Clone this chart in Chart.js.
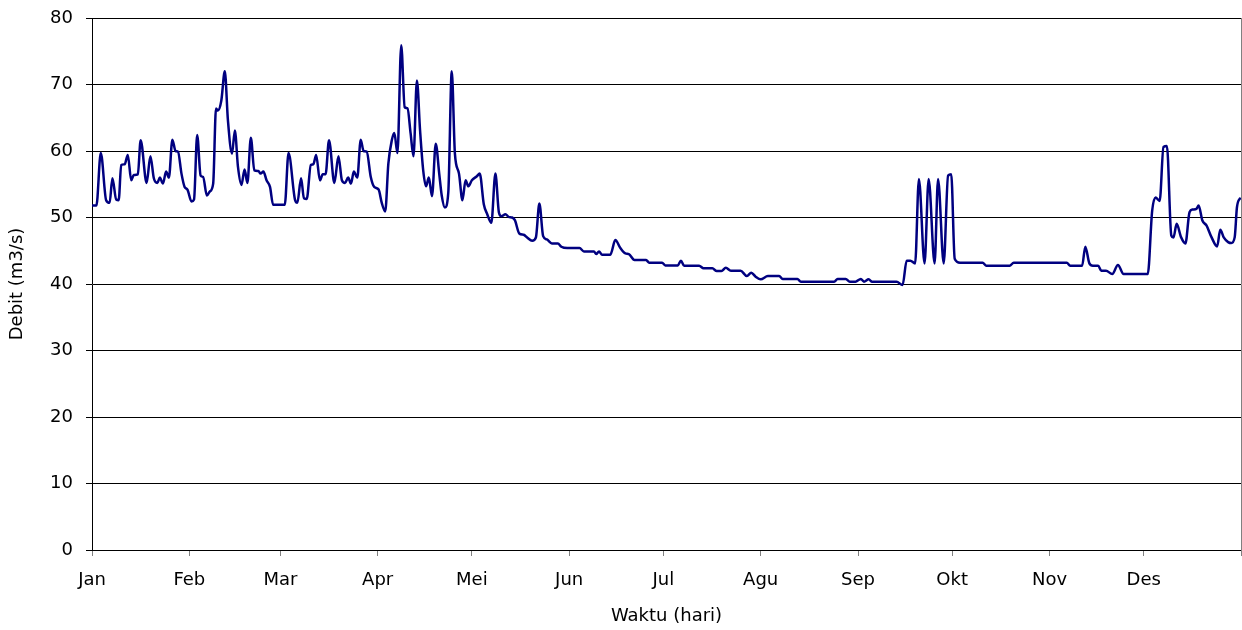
<!DOCTYPE html>
<html>
<head>
<meta charset="utf-8">
<script src="https://cdn.jsdelivr.net/npm/chart.js@4/dist/chart.umd.min.js"></script>
<style>
  html, body { margin: 0; padding: 0; background: #fff; }
  #wrap { width: 1242px; height: 630px; }
</style>
</head>
<body>
<div id="wrap"><canvas id="chartDebit"></canvas></div>
<script>
// Label bulan dan hari awal tiap bulan (tahun kabisat)
const bulan = ['Jan', 'Feb', 'Mar', 'Apr', 'Mei', 'Jun', 'Jul', 'Agu', 'Sep', 'Okt', 'Nov', 'Des'];
const awalBulan = [0, 31, 60, 91, 121, 152, 182, 213, 244, 274, 305, 335, 366];
const yMin = 0, yMax = 80, yStep = 10;

// Debit harian: hari ke- dan nilai m3/s
const hari = [
  0, 1.4, 2.8, 4.5, 5.6, 6.5, 7.7, 8.5, 9.3, 10.4, 11.4, 12.5, 13.3, 14.6, 15.5, 17.4, 18.6, 19.7, 20.8, 21.6,
  22.6, 23.6, 24.5, 25.6, 26.6, 27.4, 28.5, 29.5, 30.4, 31.7, 32.5, 33.5, 34.6, 35.4, 36.6, 37.5, 38.6, 39.5, 40.1, 41.2,
  42.3, 43.3, 44.6, 45.5, 46.5, 47.6, 48.6, 49.5, 50.6, 51.7, 53, 53.7, 54.6, 55.6, 56.7, 57.7, 61.4, 62.6, 64.7, 65.4,
  66.6, 67.5, 68.4, 69.7, 70.5, 71.4, 72.6, 73.5, 74.4, 75.5, 77.2, 78.5, 79.6, 80.6, 81.6, 82.5, 83.4, 84.5, 85.6, 86.5,
  87.5, 88.8, 89.9, 91.3, 92.3, 93.4, 94.4, 95.5, 96.3, 97.3, 98.5, 99.6, 100.5, 101.5, 102.4, 103.5, 104.5, 105.5, 106.4, 107.3,
  108.3, 109.5, 110.6, 111.4, 112.4, 113.5, 114.6, 115.6, 116.9, 118, 119, 119.9, 121, 122.6, 123.5, 124.8, 125.9, 127.2, 128.5, 129.6,
  130.4, 131.7, 132.7, 133.8, 134.7, 136.1, 137.5, 138.6, 140.2, 141.4, 142.5, 143.7, 144.9, 146.5, 148.4, 149.5, 151.4, 155.3, 156.7, 159.9,
  160.6, 161.5, 162.5, 165.1, 166.7, 168.3, 169.9, 171, 172.8, 176.5, 177.5, 181.6, 182.6, 186.6, 187.6, 188.6, 193.4, 194.8, 197.6, 199,
  200.5, 201.9, 203.5, 206.6, 208.6, 210, 211.4, 213, 215.3, 218.9, 220, 224.7, 225.8, 236.4, 237.5, 240.1, 241.4, 243.2, 244.9, 245.9,
  247.4, 248.5, 256.3, 258.2, 259.5, 260.7, 262.2, 263.4, 265.2, 266.5, 268.4, 269.5, 271.3, 272.7, 273.7, 274.8, 276.5, 283.7, 284.9, 292.3,
  293.6, 310.5, 311.6, 315.4, 316.4, 317.7, 318.8, 320.5, 321.5, 323, 325, 326.8, 328.6, 336.3, 337.7, 338.8, 340.1, 341.3, 342.4, 343.8,
  344.5, 345.5, 346.9, 348.3, 349.6, 350.6, 351.8, 352.5, 353.7, 355, 356.6, 358.4, 359.4, 360.5, 361.9, 362.9, 364, 364.7, 365.8
];
const debit = [
  51.8, 51.8, 59.7, 52.6, 52.2, 55.9, 52.7, 52.6, 57.9, 58, 59.4, 55.6, 56.4, 56.5, 61.6, 55.2, 59.2, 55.9, 55.2, 56,
  55.1, 56.9, 56, 61.7, 60, 59.9, 56.6, 54.6, 54.2, 52.4, 52.7, 62.4, 56.3, 56.1, 53.3, 53.9, 55.1, 66.4, 66.1, 67.6,
  72, 64.6, 59.6, 63.1, 57.6, 54.9, 57.2, 55.2, 62, 57.1, 57, 56.6, 56.9, 55.6, 54.6, 51.9, 51.9, 59.7, 52.6, 52.2,
  55.9, 52.9, 52.8, 57.9, 58, 59.4, 55.6, 56.5, 56.5, 61.6, 55.2, 59.2, 55.6, 55.2, 56, 55.1, 56.9, 56, 61.7, 60,
  59.9, 56.1, 54.6, 54.2, 52.2, 50.9, 58.1, 61.6, 62.7, 59.7, 75.9, 66.6, 66.4, 62.6, 59.2, 70.6, 63.1, 57.1, 54.7, 56,
  53.2, 61.1, 56.6, 53.3, 51.5, 53.8, 72, 59.6, 56.6, 52.6, 55.6, 54.7, 55.6, 56.2, 56.6, 52, 50.5, 49.2, 56.6, 50.8,
  50.2, 50.5, 50.1, 50, 49.6, 47.6, 47.4, 47, 46.5, 47, 52.1, 47.2, 46.7, 46.1, 46.1, 45.6, 45.4, 45.4, 44.9, 44.9,
  44.5, 44.9, 44.4, 44.4, 46.6, 45.4, 44.6, 44.5, 43.6, 43.6, 43.2, 43.2, 42.8, 42.8, 43.5, 42.75, 42.75, 42.35, 42.35, 41.95,
  41.95, 42.45, 42, 42, 41.2, 41.7, 41.1, 40.7, 41.2, 41.2, 40.75, 40.75, 40.35, 40.35, 40.75, 40.75, 40.35, 40.35, 40.75, 40.35,
  40.7, 40.35, 40.35, 39.85, 43.5, 43.5, 43.1, 55.8, 43.1, 55.8, 43.1, 55.8, 43.1, 56.3, 56.5, 43.8, 43.2, 43.2, 42.75, 42.75,
  43.2, 43.2, 42.75, 42.75, 45.6, 43.1, 42.75, 42.75, 42, 42, 41.5, 42.85, 41.5, 41.5, 51, 53, 52.5, 60.6, 60.75, 47.3,
  47, 49.05, 47.05, 46.1, 50.8, 51.2, 51.3, 51.8, 49.55, 48.8, 47.05, 45.65, 48.15, 47, 46.3, 46.15, 47.05, 51.5, 53
];

const hurufSumbu = { family: 'DejaVu Sans', size: 18 };

const ctxDebit = document.getElementById('chartDebit');
new Chart(ctxDebit, {
  type: 'line',
  data: {
    datasets: [{
      label: 'Debit',
      data: hari.map((h, i) => ({ x: h, y: debit[i] })),
      borderColor: '#000080',
      borderWidth: 2.5,
      pointRadius: 0,
      fill: false,
      cubicInterpolationMode: 'monotone'
    }]
  },
  options: {
    responsive: true,
    maintainAspectRatio: false,
    animation: false,
    layout: { padding: { top: 18, right: 1, left: 0, bottom: 0 } },
    plugins: { legend: { display: false }, tooltip: { enabled: false } },
    scales: {
      x: {
        type: 'linear',
        min: 0,
        max: 366,
        afterBuildTicks: s => { s.ticks = awalBulan.map(v => ({ value: v })); },
        afterFit: s => { s.height = 80; s.paddingLeft = 0; s.paddingRight = 0; },
        ticks: {
          autoSkip: false,
          maxRotation: 0,
          padding: 14,
          color: '#000',
          font: hurufSumbu,
          callback: v => bulan[awalBulan.indexOf(v)] || ''
        },
        grid: { drawOnChartArea: false, tickLength: 6, color: '#808080' },
        border: { color: '#000' },
        title: { display: true, text: 'Waktu (hari)', color: '#000', font: hurufSumbu, padding: { top: 4, bottom: 3 } }
      },
      y: {
        min: yMin,
        max: yMax,
        afterFit: s => { s.width = 92; s.paddingTop = 0; s.paddingBottom = 0; },
        ticks: { stepSize: yStep, padding: 13, color: '#000', font: hurufSumbu },
        grid: { color: '#000', tickLength: 6 },
        border: { color: '#000' },
        title: { display: true, text: 'Debit (m3/s)', color: '#000', font: hurufSumbu, padding: { top: 7, bottom: 0 } }
      },
      y2: {
        position: 'right',
        min: yMin,
        max: yMax,
        afterFit: s => { s.width = 0; s.paddingTop = 0; s.paddingBottom = 0; },
        ticks: { display: false },
        grid: { display: false },
        border: { display: true, color: '#808080' }
      }
    }
  }
});
</script>
</body>
</html>
